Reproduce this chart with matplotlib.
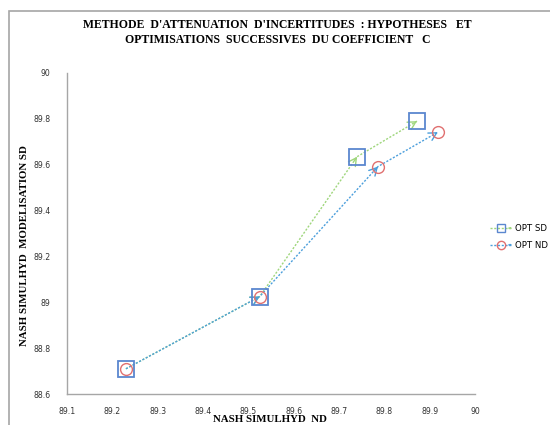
import numpy as np
import matplotlib
matplotlib.use('Agg')
import matplotlib.pyplot as plt
from matplotlib.lines import Line2D
from matplotlib.patches import Rectangle, FancyArrowPatch
from matplotlib.legend_handler import HandlerLine2D

# data
sd_x = [89.23, 89.525, 89.74, 89.872]
sd_y = [88.71, 89.025, 89.635, 89.79]
nd_x = [89.23, 89.525, 89.786, 89.918]
nd_y = [88.71, 89.025, 89.592, 89.742]

x_ticks = [89.1, 89.2, 89.3, 89.4, 89.5, 89.6, 89.7, 89.8, 89.9, 90]
y_ticks = [88.6, 88.8, 89, 89.2, 89.4, 89.6, 89.8, 90]

green = '#9fd67c'
blue_line = '#4c9fdc'
sq_col = '#5b87cf'
circ_col = '#e07070'

plt.rcParams['font.family'] = 'DejaVu Sans'

fig = plt.figure(figsize=(5.5, 4.25), dpi=100)
ax = fig.add_axes([67 / 550, 1 - 394 / 425, 408 / 550, 321 / 425])

# outer chart border (cropped at right and bottom)
fig.patches.append(Rectangle((9 / 550, -0.05), 1.1, 1 - 11 / 425 + 0.05,
                             transform=fig.transFigure, fill=False,
                             edgecolor='#a6a6a6', lw=1.2))


def draw_series(xs, ys, color):
    ax.plot(xs, ys, color=color, lw=1, linestyle=(0, (1.5, 1.2)), zorder=2)
    # open arrow head at the end of every segment
    for i in range(1, len(xs)):
        x0 = xs[i - 1] + 0.97 * (xs[i] - xs[i - 1])
        y0 = ys[i - 1] + 0.97 * (ys[i] - ys[i - 1])
        ax.annotate('', xy=(xs[i], ys[i]), xytext=(x0, y0),
                    arrowprops=dict(arrowstyle='->,head_length=0.55,head_width=0.3',
                                    color=color, lw=1, shrinkA=0, shrinkB=0),
                    zorder=3)


draw_series(sd_x, sd_y, green)
draw_series(nd_x, nd_y, blue_line)

ax.plot(sd_x, sd_y, linestyle='none', marker='s', markersize=11.5,
        markerfacecolor='none', markeredgecolor=sq_col, markeredgewidth=1.3, zorder=4)
ax.plot(nd_x, nd_y, linestyle='none', marker='o', markersize=8.5,
        markerfacecolor='none', markeredgecolor=circ_col, markeredgewidth=1, zorder=4)

ax.set_xlim(89.1, 90)
ax.set_ylim(88.6, 90)
ax.set_xticks(x_ticks)
ax.set_xticklabels([f'{v:g}' for v in x_ticks])
ax.set_yticks(y_ticks)
ax.set_yticklabels([f'{v:g}' for v in y_ticks])
ax.tick_params(length=0, labelsize=5.6, colors='#333333')
ax.tick_params(axis='x', pad=9)
ax.tick_params(axis='y', pad=12)
for s in ['top', 'right']:
    ax.spines[s].set_visible(False)
for s in ['left', 'bottom']:
    ax.spines[s].set_color('#a6a6a6')
    ax.spines[s].set_linewidth(1)

fig.text(270 / 550, 1 - 419 / 425, 'NASH SIMULHYD  ND', ha='center', va='center',
         family='Liberation Serif', weight='bold', fontsize=7.8)
fig.text(25 / 550, 1 - 246 / 425, 'NASH SIMULHYD  MODELISATION SD', ha='center',
         va='center', rotation=90, family='Liberation Serif', weight='bold',
         fontsize=7.8)

fig.text(0.505, 0.955, "METHODE  D'ATTENUATION  D'INCERTITUDES  : HYPOTHESES   ET\n"
         "OPTIMISATIONS  SUCCESSIVES  DU COEFFICIENT   C",
         ha='center', va='top', family='Liberation Serif', weight='bold',
         fontsize=8.5, linespacing=1.3)


class ArrowLineHandler(HandlerLine2D):
    def create_artists(self, legend, orig_handle, xdescent, ydescent,
                       width, height, fontsize, trans):
        artists = super().create_artists(legend, orig_handle, xdescent, ydescent,
                                         width, height, fontsize, trans)
        yc = height / 2 - ydescent
        arr = FancyArrowPatch((width * 0.85, yc), (width, yc),
                              arrowstyle='->,head_length=0.5,head_width=0.3',
                              color=orig_handle.get_color(), lw=1,
                              shrinkA=0, shrinkB=0, transform=trans)
        return artists + [arr]


handles = [
    Line2D([], [], color=green, lw=1, linestyle=(0, (1.5, 1.2)), marker='s',
           markersize=6, markerfacecolor='none', markeredgecolor=sq_col),
    Line2D([], [], color=blue_line, lw=1, linestyle=(0, (1.5, 1.2)), marker='o',
           markersize=6, markerfacecolor='none', markeredgecolor=circ_col),
]
fig.legend(handles, ['OPT SD', 'OPT ND'], loc='center left',
           bbox_to_anchor=(482 / 550, 1 - 237 / 425), frameon=False,
           fontsize=6.2, handlelength=2.6, handletextpad=0.3, labelspacing=0.9,
           handler_map={Line2D: ArrowLineHandler()})

fig.savefig('out.png', dpi=100)
